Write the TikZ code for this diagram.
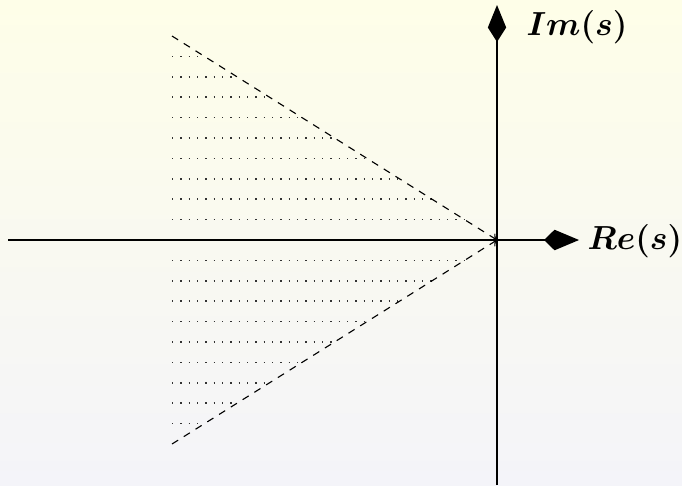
\documentclass[tikz,border=0pt]{standalone}
\usepackage{amsmath,bm}
\usetikzlibrary{arrows.meta,calc}
\definecolor{bgtop}{HTML}{FEFEE8}
\definecolor{bgbot}{HTML}{F4F4F9}
\definecolor{dotgray}{HTML}{333333}
\begin{document}
\begin{tikzpicture}[x=0.36pt,y=-0.36pt,
  axis/.style={line width=0.75pt,black},
  bound/.style={line width=0.4pt,dash pattern=on 2.6pt off 2.4pt,-{To[length=2pt,width=3.2pt]}},
  fillrow/.style={line width=0.6pt,dotgray,dash pattern=on 0.5pt off 2.5pt},
  lbl/.style={font=\fontsize{11.5}{13}\selectfont}]
\fill[top color=bgtop,bottom color=bgbot] (0,0) rectangle (682,485);
\useasboundingbox (0,0) rectangle (682,485);
\coordinate (O) at (497,240);
\coordinate (A) at (172,36);
\coordinate (B) at (172,444);
\coordinate (xl) at (8,240);
\coordinate (xr) at (579,240);
\coordinate (yb) at (497,485);
\coordinate (yt) at (497,5);
% dotted rows
\foreach \i in {1,...,9}{
  \coordinate (u\i) at ($(O)!\i/10!(A)$);
  \coordinate (d\i) at ($(O)!\i/10!(B)$);
  \draw[fillrow] (u\i -| A) -- (u\i);
  \draw[fillrow] (d\i -| B) -- (d\i);
}
\draw[bound] (A) -- (O);
\draw[bound] (B) -- (O);
\draw[axis,-{Kite[length=12.6pt,width=7.4pt,inset=3.8pt]}] (xl) -- (xr);
\draw[axis,-{Kite[length=13.3pt,width=6.6pt,inset=5.2pt]}] (yb) -- (yt);
\node[lbl] (re) at (635,241) {$\bm{Re(s)}$};
\node[lbl] (im) at (577,27) {$\bm{Im(s)}$};
\end{tikzpicture}
\end{document}
